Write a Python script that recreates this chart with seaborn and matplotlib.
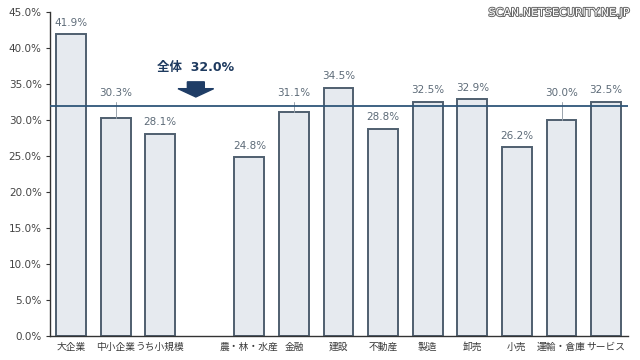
import matplotlib
matplotlib.use("Agg")
import matplotlib.pyplot as plt
import matplotlib.patheffects as pe
from matplotlib.patches import FancyArrow
import seaborn as sns
import pandas as pd

categories = ["大企業", "中小企業", "うち小規模", "農・林・水産", "金融", "建設", "不動産",
              "製造", "卸売", "小売", "運輸・倉庫", "サービス"]
values = [41.9, 30.3, 28.1, 24.8, 31.1, 34.5, 28.8, 32.5, 32.9, 26.2, 30.0, 32.5]
spacer = " "
order = categories[:3] + [spacer] + categories[3:]
overall = 32.0
overall_label = "全体  32.0%"
yticks = [0, 5, 10, 15, 20, 25, 30, 35, 40, 45]
watermark = "SCAN.NETSECURITY.NE.JP"

sns.set_theme(style="white")
plt.rcParams['font.family'] = ['DejaVu Sans', 'Noto Sans CJK JP']

df = pd.DataFrame({"cat": categories, "val": values})

fig = plt.figure(figsize=(6.4, 3.6), dpi=100)
ax = fig.add_axes([50/640, 1 - 336/360, (628-50)/640, (336-12)/360])

sns.barplot(data=df, x="cat", y="val", order=order, ax=ax, width=0.67,
            color="#e6eaef", edgecolor="#4f5f6f", linewidth=1.4, saturation=1)

ax.set_xlim(-0.47, 12.49)
ax.set_ylim(0, 45)
ax.set_yticks(yticks)
ax.set_yticklabels([f"{t:.1f}%" for t in yticks], fontsize=7.5, color="#444444")
ax.tick_params(axis="y", length=3, width=0.8, color="#333333", pad=3, left=True)
ax.tick_params(axis="x", length=0, pad=4)
for lab in ax.get_xticklabels():
    lab.set_fontfamily("Noto Sans CJK JP")
    lab.set_fontsize(7)
    lab.set_color("#3a3a3a")
ax.set_xlabel("")
ax.set_ylabel("")
for s in ["top", "right"]:
    ax.spines[s].set_visible(False)
for s in ["left", "bottom"]:
    ax.spines[s].set_color("#333333")
    ax.spines[s].set_linewidth(1.0)

ax.axhline(overall, color="#2f5679", lw=1.3, zorder=3)

label_color = "#5d6b78"
for cat, v in zip(categories, values):
    x = order.index(cat)
    if 29.5 < v < overall:
        ly = 33.8
        ax.plot([x, x], [v, ly - 1.3], color="#9aa4ad", lw=0.7, zorder=2)
    else:
        ly = v + 1.6
    ax.text(x, ly, f"{v:.1f}%", ha="center", va="center", fontsize=7.5,
            color=label_color)

# overall annotation
ax.text(2.8, 37.3, overall_label, ha="center", va="center", fontsize=9,
        fontweight="bold", color="#1e3a5f")
ax.add_patch(FancyArrow(2.8, 35.3, 0, -2.1, width=0.38, head_width=0.8,
                        head_length=1.15, length_includes_head=True,
                        color="#1f3d66", zorder=4))

fig.text(630/640, 1 - 13/360, watermark, ha="right", va="center", fontsize=8,
         color="white", family="DejaVu Sans",
         path_effects=[pe.withStroke(linewidth=1.4, foreground="#666666")])

fig.savefig("out.png", dpi=100)
